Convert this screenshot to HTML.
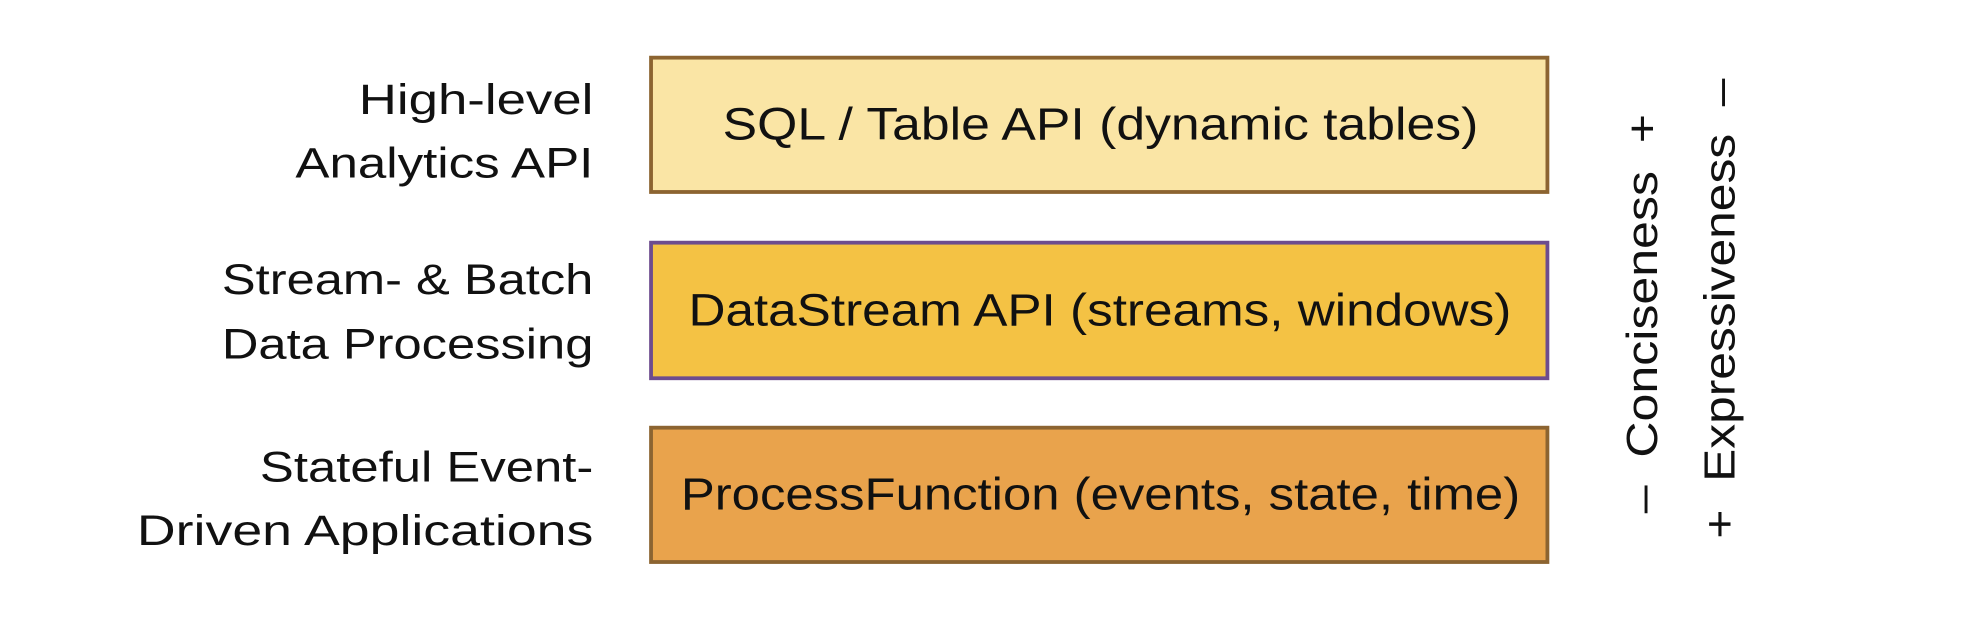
<!DOCTYPE html>
<html><head><meta charset="utf-8"><style>html,body{margin:0;padding:0;background:#fff;}svg{display:block}</style></head>
<body>
<svg width="1988" height="626" viewBox="0 0 1568 494" preserveAspectRatio="none" xmlns="http://www.w3.org/2000/svg" font-family="Liberation Sans, sans-serif" fill="#111">
<rect x="513.5" y="45.5" width="707" height="106" fill="#FAE5A5" stroke="#8C6431" stroke-width="3"/>
<rect x="513.5" y="191.5" width="707" height="107" fill="#F4C244" stroke="#6D4C8E" stroke-width="3"/>
<rect x="513.5" y="337.5" width="707" height="106" fill="#E9A34C" stroke="#8C6431" stroke-width="3"/>
<g font-size="36">
<text x="570" y="110" textLength="596" lengthAdjust="spacingAndGlyphs">SQL / Table API (dynamic tables)</text>
<text x="543" y="257" textLength="649" lengthAdjust="spacingAndGlyphs">DataStream API (streams, windows)</text>
<text x="537" y="402" textLength="662" lengthAdjust="spacingAndGlyphs">ProcessFunction (events, state, time)</text>
</g>
<g font-size="34">
<text x="283" y="90" textLength="185" lengthAdjust="spacingAndGlyphs">High-level</text>
<text x="233" y="140" textLength="235" lengthAdjust="spacingAndGlyphs">Analytics API</text>
<text x="175" y="232" textLength="293" lengthAdjust="spacingAndGlyphs">Stream- &amp; Batch</text>
<text x="175" y="283" textLength="293" lengthAdjust="spacingAndGlyphs">Data Processing</text>
<text x="205" y="380" textLength="263" lengthAdjust="spacingAndGlyphs">Stateful Event-</text>
<text x="108" y="430" textLength="360" lengthAdjust="spacingAndGlyphs">Driven Applications</text>
</g>
<g font-size="34">
<text transform="translate(1307,405) rotate(-90)" textLength="315" lengthAdjust="spacingAndGlyphs" xml:space="preserve">–  Conciseness  +</text>
<text transform="translate(1368,425) rotate(-90)" textLength="363" lengthAdjust="spacingAndGlyphs" xml:space="preserve">+  Expressiveness  –</text>
</g>
</svg>
</body></html>
